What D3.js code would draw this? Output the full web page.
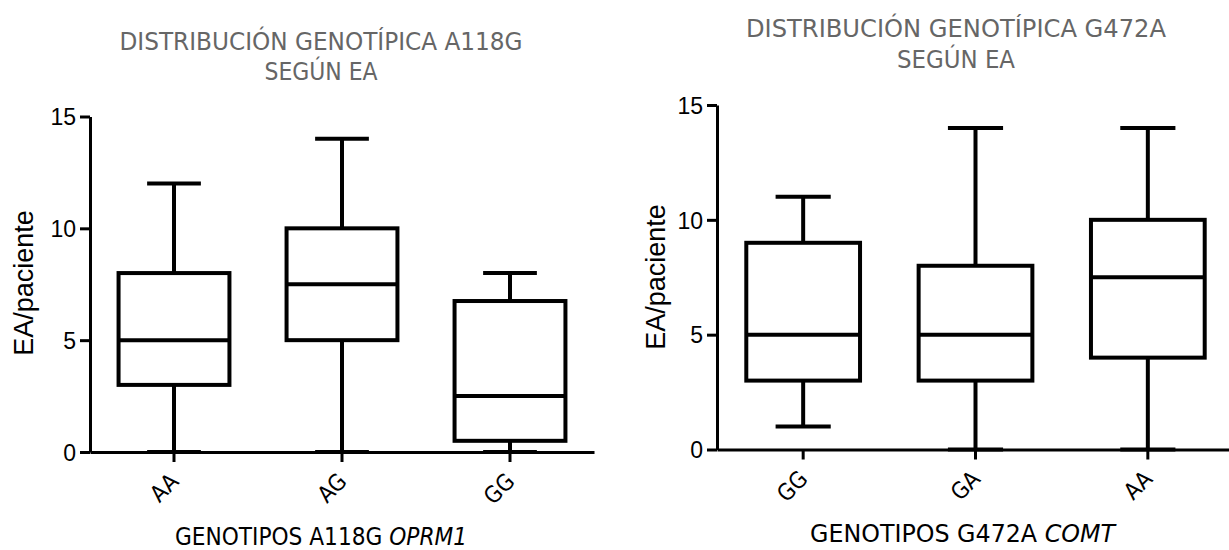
<!DOCTYPE html>
<meta charset="utf-8">
<title>Distribución genotípica según EA</title>
<style>
	body { margin: 0; background: #fff; }
	svg { display: block; }
	.titulo { font-family: "DejaVu Sans Condensed", "DejaVu Sans", sans-serif; font-stretch: condensed; fill: #666; font-size: 24px; }
	.xtitulo { font-family: "DejaVu Sans Condensed", "DejaVu Sans", sans-serif; font-stretch: condensed; fill: #000; font-size: 24px; }
	.ytitulo { font-family: "Liberation Sans", Arial, sans-serif; fill: #000; font-size: 27px; }
	.eje text { font-family: "Liberation Sans", Arial, sans-serif; font-size: 23px; fill: #000; }
	.eje path, .eje line { stroke: #000; stroke-width: 3; }
	.cat { font-family: "DejaVu Sans Condensed", "DejaVu Sans", sans-serif; font-stretch: condensed; font-size: 23px; fill: #000; }
</style>
<body>
<script src="https://d3js.org/d3.v7.min.js"></script>
<script>
// datos: gráfico izquierdo (A118G OPRM1)
var catsA118G = ["AA", "AG", "GG"];
var minA118G = [0, 0, 0];
var q1A118G = [3, 5, 0.5];
var medA118G = [5, 7.5, 2.5];
var q3A118G = [8, 10, 6.75];
var maxA118G = [12, 14, 8];

// datos: gráfico derecho (G472A COMT)
var catsG472A = ["GG", "GA", "AA"];
var minG472A = [1, 0, 0];
var q1G472A = [3, 3, 4];
var medG472A = [5, 5, 7.5];
var q3G472A = [9, 8, 10];
var maxG472A = [11, 14, 14];

var yTicks = [0, 5, 10, 15];

var svg = d3.select("body").append("svg")
	.attr("width", 1229)
	.attr("height", 550);

function dibujarBoxplot(cfg) {
	var x = d3.scaleBand().domain(cfg.cats).range(cfg.xRange).paddingInner(0).paddingOuter(0);
	var y = d3.scaleLinear().domain([0, 15]).range(cfg.yRange);
	var g = svg.append("g");

	// ejes
	g.append("g").attr("class", "eje")
		.attr("transform", "translate(" + cfg.xRange[0] + ",0)")
		.call(d3.axisLeft(y).tickValues(yTicks).tickSize(10).tickSizeOuter(0).tickPadding(4))
		.call(function (s) { s.selectAll("text").attr("dy", "0.36em"); });

	var ejeX = g.append("g").attr("class", "eje")
		.attr("transform", "translate(0," + cfg.yRange[0] + ")")
		.call(d3.axisBottom(x).tickSize(10).tickSizeOuter(0));
	ejeX.selectAll("text").remove();

	var step = x.step();
	var cajas = cfg.cats.map(function (c, i) {
		return { cat: c, min: cfg.min[i], q1: cfg.q1[i], med: cfg.med[i], q3: cfg.q3[i], max: cfg.max[i] };
	});

	var cx = function (d) { return x(d.cat) + x.bandwidth() / 2; };
	var bw = step * 0.66, cw = step * 0.32;

	var b = g.selectAll(".caja").data(cajas).enter().append("g").attr("class", "caja")
		.attr("fill", "none").attr("stroke", "#000").attr("stroke-width", 4);

	// bigotes
	b.append("line").attr("x1", cx).attr("x2", cx)
		.attr("y1", function (d) { return y(d.max); }).attr("y2", function (d) { return y(d.q3); });
	b.append("line").attr("x1", cx).attr("x2", cx)
		.attr("y1", function (d) { return y(d.q1); }).attr("y2", function (d) { return y(d.min); });
	b.append("line").attr("x1", function (d) { return cx(d) - cw / 2; }).attr("x2", function (d) { return cx(d) + cw / 2; })
		.attr("y1", function (d) { return y(d.max); }).attr("y2", function (d) { return y(d.max); });
	b.append("line").attr("x1", function (d) { return cx(d) - cw / 2; }).attr("x2", function (d) { return cx(d) + cw / 2; })
		.attr("y1", function (d) { return y(d.min); }).attr("y2", function (d) { return y(d.min); });

	// caja
	b.append("rect")
		.attr("x", function (d) { return cx(d) - bw / 2; })
		.attr("width", bw)
		.attr("y", function (d) { return y(d.q3); })
		.attr("height", function (d) { return y(d.q1) - y(d.q3); })
		.attr("fill", "#fff");
	// mediana
	b.append("line").attr("x1", function (d) { return cx(d) - bw / 2; }).attr("x2", function (d) { return cx(d) + bw / 2; })
		.attr("y1", function (d) { return y(d.med); }).attr("y2", function (d) { return y(d.med); });

	// etiquetas de categorías giradas
	g.selectAll(".cat").data(cajas).enter().append("text").attr("class", "cat")
		.attr("text-anchor", "end")
		.attr("transform", function (d) {
			return "translate(" + (cx(d) + 6) + "," + (cfg.yRange[0] + 31) + ") rotate(-45)";
		})
		.text(function (d) { return d.cat; });

	// título del eje Y
	g.append("text").attr("class", "ytitulo")
		.attr("text-anchor", "middle")
		.attr("transform", "translate(" + cfg.yTitle[0] + "," + cfg.yTitle[1] + ") rotate(-90)")
		.text("EA/paciente");

	// título del eje X
	var xt = g.append("text").attr("class", "xtitulo")
		.attr("x", cfg.xTitle[0]).attr("y", cfg.xTitle[1])
		.attr("textLength", cfg.xTitle[2]).attr("lengthAdjust", "spacingAndGlyphs");
	xt.append("tspan").text(cfg.xLabel + " ");
	xt.append("tspan").attr("font-style", "italic").text(cfg.gene);

	// título
	cfg.title.forEach(function (t) {
		g.append("text").attr("class", "titulo")
			.attr("text-anchor", "middle")
			.attr("x", cfg.titleX).attr("y", t.y)
			.attr("textLength", t.w).attr("lengthAdjust", "spacingAndGlyphs")
			.text(t.txt);
	});
}

dibujarBoxplot({
	cats: catsA118G, min: minA118G, q1: q1A118G, med: medA118G, q3: q3A118G, max: maxA118G,
	xRange: [90, 594], yRange: [452, 116.5],
	yTitle: [33, 283],
	xLabel: "GENOTIPOS A118G", gene: "OPRM1", xTitle: [175, 545, 292],
	titleX: 321,
	title: [{ txt: "DISTRIBUCIÓN GENOTÍPICA A118G", y: 50, w: 403 }, { txt: "SEGÚN EA", y: 80, w: 113 }]
});

dibujarBoxplot({
	cats: catsG472A, min: minG472A, q1: q1G472A, med: medG472A, q3: q3G472A, max: maxG472A,
	xRange: [717, 1234], yRange: [449.5, 105],
	yTitle: [665, 277],
	xLabel: "GENOTIPOS G472A", gene: "COMT", xTitle: [810, 542, 305],
	titleX: 956,
	title: [{ txt: "DISTRIBUCIÓN GENOTÍPICA G472A", y: 37, w: 420 }, { txt: "SEGÚN EA", y: 68, w: 118 }]
});
</script>
</body>
